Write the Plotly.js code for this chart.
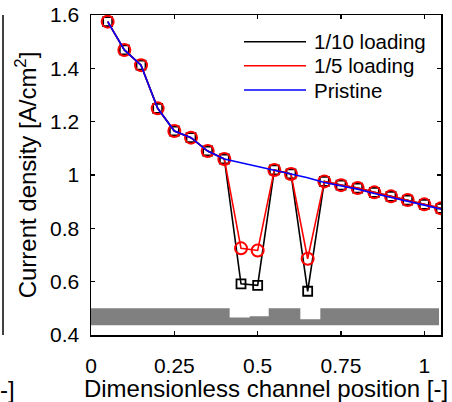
<!DOCTYPE html>
<html><head><meta charset="utf-8">
<script src="https://cdn.plot.ly/plotly-3.0.1.min.js"></script>
<style>html,body{margin:0;padding:0;background:#fff;} #chart{width:452px;height:402px;}</style>
</head><body><div id="chart"></div>
<script>
// ---- data ----
const position = [0.05,0.10,0.15,0.20,0.25,0.30,0.35,0.40,0.45,0.50,0.55,0.60,0.65,0.70,0.75,0.80,0.85,0.90,0.95,1.00,1.05];
const pristine = [1.575,1.469,1.412,1.250,1.165,1.140,1.090,1.060,1.046,1.032,1.018,1.003,0.990,0.972,0.959,0.947,0.931,0.917,0.903,0.887,0.872];
const loading10 = [1.575,1.469,1.412,1.250,1.165,1.140,1.090,1.060,0.592,0.586,1.019,1.004,0.564,0.976,0.962,0.951,0.935,0.920,0.906,0.890,0.875];
const loading5 = [1.575,1.469,1.412,1.250,1.165,1.140,1.090,1.060,0.725,0.717,1.019,1.004,0.686,0.976,0.962,0.951,0.935,0.920,0.906,0.890,0.875];
const seriesNames = ["1/10 loading","1/5 loading","Pristine"];
const seriesColors = ["#000000","#ff0000","#0000ff"];
// channel strip (grey band with notches at the loaded positions)
const bandStart = [0.000,0.416,0.476,0.533,0.628,0.688];
const bandEnd   = [0.416,0.476,0.533,0.628,0.688,1.044];
const bandTop   = [0.500,0.466,0.470,0.500,0.459,0.500];
const bandBottom = 0.437;
const xTickVals = [0,0.25,0.5,0.75,1];
const xTickText = ["0","0.25","0.5","0.75","1"];
const yTickVals = [0.4,0.6,0.8,1.0,1.2,1.4,1.6];
const yTickText = ["0.4","0.6","0.8","1","1.2","1.4","1.6"];

// ---- traces ----
const FONT = "Liberation Sans, Arial, Helvetica, sans-serif";
// band outline built from the segment arrays: bottom-left, step along tops, bottom-right
const bandX = [bandStart[0]];
const bandY = [bandBottom];
bandStart.forEach((s,i) => { bandX.push(s, bandEnd[i]); bandY.push(bandTop[i], bandTop[i]); });
bandX.push(bandEnd[bandEnd.length-1]); bandY.push(bandBottom);
const band = {
  type:"scatter", mode:"lines", x: bandX, y: bandY, fill:"toself",
  fillcolor:"#808080", line:{width:0, color:"#808080"},
  showlegend:false, hoverinfo:"skip"
};
const traces = [
  band,
  {type:"scatter", mode:"lines+markers", x: position, y: loading10, name: seriesNames[0], showlegend:false,
   line:{color:seriesColors[0], width:1.6},
   marker:{symbol:"square-open", size:9, color:seriesColors[0], line:{width:1.8}}},
  {type:"scatter", mode:"lines+markers", x: position, y: loading5, name: seriesNames[1], showlegend:false,
   line:{color:seriesColors[1], width:1.6},
   marker:{symbol:"circle-open", size:12, color:seriesColors[1], line:{width:2}}},
  {type:"scatter", mode:"lines", x: position, y: pristine, name: seriesNames[2], showlegend:false,
   line:{color:seriesColors[2], width:1.6}}
];

// legend drawn as line samples + text (paper coordinates)
const legendRowsY = [0.9166, 0.8416, 0.7656];
const legendShapes = seriesNames.map((n,i) => ({
  type:"line", xref:"paper", yref:"paper", x0:0.4371, x1:0.6143, y0:legendRowsY[i], y1:legendRowsY[i],
  line:{color:seriesColors[i], width:1.6}
}));
const legendTexts = seriesNames.map((n,i) => ({
  xref:"paper", yref:"paper", x:0.630, y:legendRowsY[i], xanchor:"left", yanchor:"middle",
  text:n, showarrow:false, font:{family:FONT, size:20.5, color:"#000"}
}));

const axisCommon = {
  showgrid:false, zeroline:false, showline:true, linecolor:"#000", linewidth:1.5,
  mirror:"ticks", ticks:"inside", ticklen:4, tickwidth:1.2, tickcolor:"#000",
  tickfont:{family:FONT, size:21, color:"#000"}, automargin:false
};
const layout = {
  width:452, height:402,
  margin:{l:91, r:11, t:15, b:67, pad:0},
  paper_bgcolor:"#fff", plot_bgcolor:"#fff",
  font:{family:FONT, color:"#000"},
  showlegend:false,
  xaxis: Object.assign({}, axisCommon, {
    range:[0,1.05], tickmode:"array", tickvals:xTickVals, ticktext:xTickText,
    ticklabelstandoff:11,
    title:{text:"Dimensionless channel position [-]", font:{family:FONT, size:24, color:"#000"}, standoff:8}
  }),
  yaxis: Object.assign({}, axisCommon, {
    range:[0.4,1.6], tickmode:"array", tickvals:yTickVals, ticktext:yTickText,
    ticklabelstandoff:6,
    title:{text:"Current density [A/cm<sup>2</sup>]", font:{family:FONT, size:24, color:"#000"}, standoff:6}
  }),
  shapes:[
    {type:"line", xref:"paper", yref:"paper", x0:-0.2514, x1:-0.2514, y0:0, y1:1,
     line:{color:"#000", width:1.5}}
  ].concat(legendShapes),
  annotations:[
    {xref:"paper", yref:"paper", x:-0.265, y:-0.169, xanchor:"left", yanchor:"middle",
     text:"-]", showarrow:false, font:{family:FONT, size:24, color:"#000"}}
  ].concat(legendTexts)
};
Plotly.newPlot("chart", traces, layout, {displayModeBar:false, staticPlot:true});
</script>
</body></html>
